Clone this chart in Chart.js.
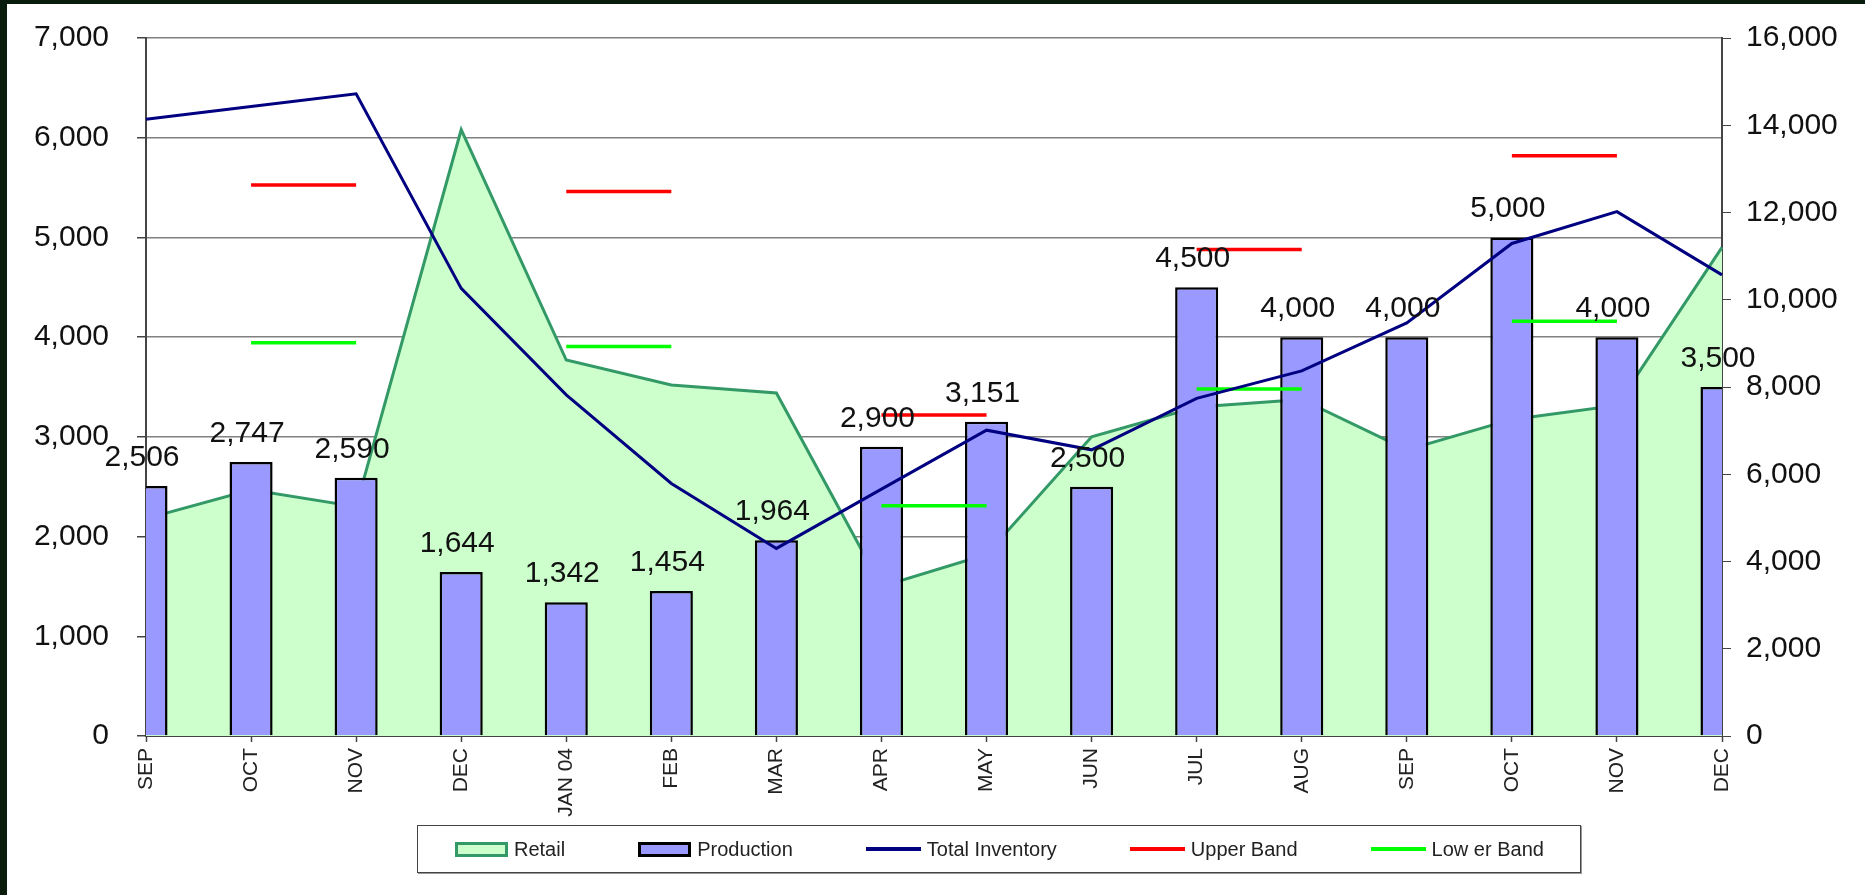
<!DOCTYPE html>
<html lang="en">
<head>
    <meta charset="UTF-8">
    <title>Retail / Production / Inventory</title>
    <script src="https://cdn.jsdelivr.net/npm/chart.js"></script>
    <style>
        html, body {
            margin: 0;
            padding: 0;
            background: #0a1c0c;
            font-family: 'Liberation Sans', Arial, sans-serif;
        }
        .frame {
            position: absolute;
            left: 7px;
            top: 4px;
            width: 1858px;
            height: 891px;
            background: #fff;
        }
        #legend {
            position: absolute;
            left: 410px;
            top: 821px;
            height: 46px;
            display: flex;
            align-items: center;
            padding: 0 36px 0 37px;
            border: 1.5px solid #444;
            box-shadow: 1px 1px 0 #999;
            background: #fff;
        }
        .item {
            display: flex;
            align-items: center;
            margin-right: 73px;
            font-size: 20px;
            color: #222;
        }
        .item:last-child { margin-right: 0; }
        .swatch { margin-right: 6px; box-sizing: border-box; }
    </style>
</head>
<body>
    <div class="frame">
        <canvas id="chart" width="1858" height="891"></canvas>
        <div id="legend"></div>
    </div>

    <script>
        // values
        const months = ['SEP', 'OCT', 'NOV', 'DEC', 'JAN 04', 'FEB', 'MAR', 'APR', 'MAY', 'JUN', 'JUL', 'AUG', 'SEP', 'OCT', 'NOV', 'DEC'];
        const retail = [2180, 2470, 2300, 6080, 3770, 3520, 3440, 1500, 1820, 3000, 3300, 3375, 2870, 3175, 3315, 4900];
        const production = [2506, 2747, 2590, 1644, 1342, 1454, 1964, 2900, 3151, 2500, 4500, 4000, 4000, 5000, 4000, 3500];
        const totalInventory = [14140, 14430, 14720, 10260, 7820, 5790, 4300, 5660, 7010, 6560, 7740, 8370, 9470, 11290, 12020, 10570];
        const upperBand = [null, 5525, 5525, null, 5460, 5460, null, 3220, 3220, null, 4880, 4880, null, 5820, 5820, null];
        const lowerBand = [null, 3945, 3945, null, 3905, 3905, null, 2310, 2310, null, 3480, 3480, null, 4160, 4160, null];

        const leftMax = 7000, leftStep = 1000;
        const rightMax = 16000, rightStep = 2000;

        const fontFamily = "'Liberation Sans', Arial, sans-serif";
        const fmt = v => Number(v).toLocaleString('en-US');

        // numbers above the production bars
        const barLabels = {
            id: 'barLabels',
            afterDatasetsDraw(chart) {
                const meta = chart.getDatasetMeta(1);
                const ctx = chart.ctx;
                ctx.save();
                ctx.font = '30px ' + fontFamily;
                ctx.fillStyle = '#111';
                ctx.textAlign = 'center';
                ctx.textBaseline = 'alphabetic';
                meta.data.forEach((bar, i) => {
                    ctx.fillText(fmt(production[i]), bar.x - 4, bar.y - 20);
                });
                ctx.restore();
            }
        };

        // the big tick padding should not push the plot down
        const fixWidth = w => s => {
            s.width = w;
            s.paddingTop = 18;
            s.paddingBottom = 18;
        };

        const chart = new Chart(document.getElementById('chart').getContext('2d'), {
            data: {
                labels: months,
                datasets: [
                    {
                        type: 'line',
                        label: 'Retail',
                        data: retail,
                        yAxisID: 'y',
                        borderColor: '#339966',
                        backgroundColor: '#ccffcc',
                        borderWidth: 3,
                        fill: 'origin',
                        pointRadius: 0,
                        tension: 0,
                        order: 5
                    },
                    {
                        type: 'bar',
                        label: 'Production',
                        data: production,
                        yAxisID: 'y',
                        backgroundColor: '#9999ff',
                        borderColor: '#000',
                        borderWidth: 2.5,
                        borderSkipped: 'start',
                        barPercentage: 0.41,
                        categoryPercentage: 1,
                        clip: 0,
                        order: 4
                    },
                    {
                        type: 'line',
                        label: 'Total Inventory',
                        data: totalInventory,
                        yAxisID: 'y1',
                        borderColor: '#000080',
                        borderWidth: 3,
                        fill: false,
                        pointRadius: 0,
                        tension: 0,
                        order: 1
                    },
                    {
                        type: 'line',
                        label: 'Upper Band',
                        data: upperBand,
                        yAxisID: 'y',
                        borderColor: '#ff0000',
                        borderWidth: 3.5,
                        fill: false,
                        pointRadius: 0,
                        spanGaps: false,
                        order: 2
                    },
                    {
                        type: 'line',
                        label: 'Low er Band',
                        data: lowerBand,
                        yAxisID: 'y',
                        borderColor: '#00ff00',
                        borderWidth: 3.5,
                        fill: false,
                        pointRadius: 0,
                        spanGaps: false,
                        order: 3
                    }
                ]
            },
            options: {
                responsive: false,
                animation: false,
                layout: { padding: { top: 34, left: 0, right: 0, bottom: 0 } },
                plugins: {
                    legend: { display: false },
                    tooltip: { enabled: false }
                },
                scales: {
                    x: {
                        offset: false,
                        grid: {
                            offset: false,
                            drawOnChartArea: false,
                            drawTicks: true,
                            tickLength: 6,
                            tickColor: '#444',
                            tickWidth: 1.5
                        },
                        border: { color: '#444', width: 2 },
                        ticks: {
                            autoSkip: false,
                            minRotation: 90,
                            maxRotation: 90,
                            padding: 6,
                            color: '#222',
                            font: { family: fontFamily, size: 21 }
                        },
                        afterFit: s => { s.height = 159; }
                    },
                    y: {
                        position: 'left',
                        min: 0,
                        max: leftMax,
                        grid: {
                            color: '#808080',
                            lineWidth: 1.5,
                            drawTicks: true,
                            tickLength: 9,
                            tickColor: '#444'
                        },
                        border: { color: '#444', width: 2 },
                        ticks: {
                            stepSize: leftStep,
                            padding: 28,
                            color: '#111',
                            font: { family: fontFamily, size: 30 },
                            callback: v => fmt(v)
                        },
                        afterFit: fixWidth(139)
                    },
                    y1: {
                        position: 'right',
                        min: 0,
                        max: rightMax,
                        grid: {
                            drawOnChartArea: false,
                            drawTicks: true,
                            tickLength: 9,
                            tickColor: '#444'
                        },
                        border: { color: '#444', width: 2 },
                        ticks: {
                            stepSize: rightStep,
                            padding: 15,
                            color: '#111',
                            font: { family: fontFamily, size: 30 },
                            callback: v => fmt(v)
                        },
                        afterFit: fixWidth(143)
                    }
                }
            },
            plugins: [barLabels]
        });

        // html legend built from the datasets, Excel style
        const legendEl = document.getElementById('legend');
        chart.data.datasets.forEach(ds => {
            const item = document.createElement('div');
            item.className = 'item';
            const sw = document.createElement('span');
            sw.className = 'swatch';
            if (ds.type === 'line' && ds.fill !== 'origin') {
                sw.style.width = '55px';
                sw.style.height = '4px';
                sw.style.background = ds.borderColor;
            } else {
                sw.style.width = '53px';
                sw.style.height = '15px';
                sw.style.background = ds.backgroundColor;
                sw.style.border = '3px solid ' + ds.borderColor;
            }
            const txt = document.createElement('span');
            txt.textContent = ds.label;
            item.appendChild(sw);
            item.appendChild(txt);
            legendEl.appendChild(item);
        });
    </script>
</body>
</html>
